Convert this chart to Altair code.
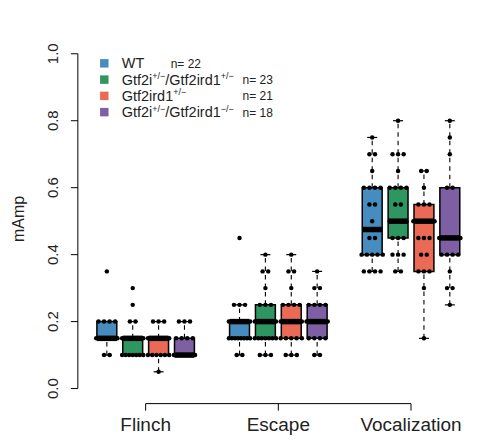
import altair as alt
import pandas as pd

# ---------------- data ----------------
behaviors = ["Flinch", "Escape", "Vocalization"]
genotypes = ["WT", "Gtf2i+/-/Gtf2ird1+/-", "Gtf2ird1+/-", "Gtf2i+/-/Gtf2ird1-/-"]
n_per_genotype = [22, 23, 21, 18]
colors = ["#468cbe", "#2e9660", "#eb6a56", "#7e5fa3"]

# box statistics per behavior, in genotype order
q1_vals = {"Flinch": [0.15, 0.10, 0.10, 0.10], "Escape": [0.15, 0.15, 0.15, 0.15], "Vocalization": [0.40, 0.45, 0.35, 0.40]}
med_vals = {"Flinch": [0.15, 0.15, 0.15, 0.10], "Escape": [0.20, 0.20, 0.20, 0.20], "Vocalization": [0.475, 0.50, 0.50, 0.45]}
q3_vals = {"Flinch": [0.20, 0.15, 0.15, 0.15], "Escape": [0.20, 0.25, 0.25, 0.25], "Vocalization": [0.60, 0.60, 0.55, 0.60]}
lo_vals = {"Flinch": [0.10, 0.10, 0.05, 0.10], "Escape": [0.10, 0.10, 0.10, 0.10], "Vocalization": [0.35, 0.35, 0.15, 0.25]}
hi_vals = {"Flinch": [0.20, 0.20, 0.20, 0.20], "Escape": [0.25, 0.40, 0.40, 0.35], "Vocalization": [0.75, 0.80, 0.65, 0.80]}

# individual animals: (value, count) per behavior / genotype
point_counts = {
    "Flinch": [
        [(0.35, 1), (0.20, 4), (0.15, 15), (0.10, 2)],
        [(0.30, 1), (0.25, 1), (0.20, 2), (0.15, 12), (0.10, 7)],
        [(0.20, 3), (0.15, 11), (0.10, 6), (0.05, 1)],
        [(0.20, 3), (0.15, 4), (0.10, 11)],
    ],
    "Escape": [
        [(0.45, 1), (0.25, 3), (0.20, 8), (0.15, 8), (0.10, 2)],
        [(0.40, 1), (0.35, 2), (0.30, 1), (0.25, 3), (0.20, 6), (0.15, 7), (0.10, 3)],
        [(0.40, 1), (0.35, 2), (0.30, 1), (0.25, 4), (0.20, 5), (0.15, 5), (0.10, 3)],
        [(0.35, 1), (0.30, 2), (0.25, 4), (0.20, 5), (0.15, 4), (0.10, 2)],
    ],
    "Vocalization": [
        [(0.75, 1), (0.70, 2), (0.65, 1), (0.60, 4), (0.55, 2), (0.50, 1), (0.45, 2), (0.40, 5), (0.35, 4)],
        [(0.80, 1), (0.70, 3), (0.65, 1), (0.60, 4), (0.55, 2), (0.50, 4), (0.45, 3), (0.40, 3), (0.35, 2)],
        [(0.65, 2), (0.60, 1), (0.55, 3), (0.50, 5), (0.45, 3), (0.40, 2), (0.35, 3), (0.30, 1), (0.15, 1)],
        [(0.80, 1), (0.75, 1), (0.70, 1), (0.60, 2), (0.45, 5), (0.40, 4), (0.35, 1), (0.30, 2), (0.25, 1)],
    ],
}

y_ticks = [0.0, 0.2, 0.4, 0.6, 0.8, 1.0]
y_title = "mAmp"
x_ticks = [0, 1, 2]

legend_segments = [
    [("WT", False)],
    [("Gtf2i", False), ("+/\u2212", True), ("/Gtf2ird1", False), ("+/\u2212", True)],
    [("Gtf2ird1", False), ("+/\u2212", True)],
    [("Gtf2i", False), ("+/\u2212", True), ("/Gtf2ird1", False), ("\u2212/\u2212", True)],
]

# ---------------- layout ----------------
W, H = 403, 364
box_step = 0.195
box_half = 0.075
cap_half = 0.0375
FONT = "Liberation Sans"
TXT = "#222222"
TICK = 7

xs = alt.Scale(domain=[-0.511, 2.52], nice=False, zero=False)
ys = alt.Scale(domain=[-0.045, 1.04], nice=False, zero=False)

rows = []
pts = []
for g, b in enumerate(behaviors):
    for k, gt in enumerate(genotypes):
        xc = g + (k - 1.5) * box_step
        rows.append(dict(behavior=b, genotype=gt, xc=xc, xl=xc - box_half, xr=xc + box_half,
                         capl=xc - cap_half, capr=xc + cap_half,
                         q1=q1_vals[b][k], med=med_vals[b][k], q3=q3_vals[b][k],
                         lo=lo_vals[b][k], hi=hi_vals[b][k]))
        for v, c in point_counts[b][k]:
            s = 0.0 if c == 1 else min(0.042, 0.16 / (c - 1))
            for i in range(c):
                pts.append(dict(behavior=b, genotype=gt, value=v, px=xc + (i - (c - 1) / 2) * s))
box_df = pd.DataFrame(rows)
pt_df = pd.DataFrame(pts)


def X(f):
    return alt.X(f, type="quantitative", scale=xs, axis=None)


def Y(f):
    return alt.Y(f, type="quantitative", scale=ys, axis=None)


color = alt.Color("genotype:N", scale=alt.Scale(domain=genotypes, range=colors), legend=None)

base = alt.Chart(box_df)
boxes = base.mark_rect(stroke="black", strokeWidth=1.5).encode(
    x=X("xl"), x2="xr:Q", y=Y("q1"), y2="q3:Q", fill=color)
wu = base.mark_rule(color="black", strokeWidth=1.1, strokeDash=[4.5, 4]).encode(
    x=X("xc"), y=Y("q3"), y2="hi:Q")
wl = base.mark_rule(color="black", strokeWidth=1.1, strokeDash=[4.5, 4]).encode(
    x=X("xc"), y=Y("lo"), y2="q1:Q")
cap_hi = base.mark_rule(color="black", strokeWidth=1.2).encode(x=X("capl"), x2="capr:Q", y=Y("hi"))
cap_lo = base.mark_rule(color="black", strokeWidth=1.2).encode(x=X("capl"), x2="capr:Q", y=Y("lo"))
medians = base.mark_rule(color="black", strokeWidth=5.5).encode(x=X("xl"), x2="xr:Q", y=Y("med"))
points = alt.Chart(pt_df).mark_circle(size=20, color="black", opacity=1).encode(
    x=X("px"), y=Y("value"))

# ---------------- R-style axes (drawn as marks) ----------------
ytick_df = pd.DataFrame({"v": y_ticks, "lab": [f"{v:.1f}" for v in y_ticks]})
xtick_df = pd.DataFrame({"v": x_ticks, "lab": behaviors})
one = pd.DataFrame({"a": [0]})

y_line = alt.Chart(pd.DataFrame({"lo": [y_ticks[0]], "hi": [y_ticks[-1]]})).mark_rule(
    color="black", strokeWidth=1).encode(x=alt.value(0), y=Y("lo"), y2="hi:Q")
y_tk = alt.Chart(ytick_df).mark_rule(color="black", strokeWidth=1).encode(
    x=alt.value(-TICK), x2=alt.value(0), y=Y("v"))
y_lab = alt.Chart(ytick_df).mark_text(
    angle=270, align="center", baseline="alphabetic", font=FONT, fontSize=15, color=TXT).encode(
    x=alt.value(-20), y=Y("v"), text="lab:N")
y_ttl = alt.Chart(one).mark_text(
    angle=270, align="center", baseline="middle", font=FONT, fontSize=16, color=TXT).encode(
    x=alt.value(-59), y=alt.value(179), text=alt.value(y_title))

x_line = alt.Chart(pd.DataFrame({"lo": [x_ticks[0]], "hi": [x_ticks[-1]]})).mark_rule(
    color="black", strokeWidth=1).encode(x=X("lo"), x2="hi:Q", y=alt.value(H))
x_tk = alt.Chart(xtick_df).mark_rule(color="black", strokeWidth=1).encode(
    x=X("v"), y=alt.value(H), y2=alt.value(H + TICK))
x_lab = alt.Chart(xtick_df).mark_text(
    align="center", baseline="alphabetic", font=FONT, fontSize=19, color=TXT).encode(
    x=X("v"), y=alt.value(H + 27), text="lab:N")

# ---------------- custom legend (superscripts) ----------------
WIDTHS = {"G": 778, "t": 278, "f": 278, "i": 222, "r": 333, "d": 556, "W": 944, "T": 611,
          "/": 278, "+": 584, "\u2212": 584, "n": 556, "=": 584, " ": 278}


def text_w(s, size):
    return sum(WIDTHS.get(ch, 556) for ch in s) / 1000 * size


legend_layers = []
row_y0, row_dy = 23, 16.3
for r, segs in enumerate(legend_segments):
    ry = row_y0 + r * row_dy
    legend_layers.append(alt.Chart(one).mark_square(size=72, color=colors[r], opacity=1).encode(
        x=alt.value(26.5), y=alt.value(ry)))
    cx = 44
    for txt, sup in segs:
        size = 9 if sup else 14.5
        dy = -0.5 if sup else 5
        legend_layers.append(alt.Chart(one).mark_text(
            align="left", baseline="alphabetic", font=FONT, fontSize=size, color=TXT).encode(
            x=alt.value(cx), y=alt.value(ry + dy), text=alt.value(txt)))
        cx += text_w(txt, size)
    nx = 93 if r == 0 else 165
    legend_layers.append(alt.Chart(one).mark_text(
        align="left", baseline="alphabetic", font=FONT, fontSize=12, color=TXT).encode(
        x=alt.value(nx), y=alt.value(ry + 4.5), text=alt.value(f"n= {n_per_genotype[r]}")))

chart = alt.layer(boxes, wu, wl, cap_hi, cap_lo, medians, points,
                  y_line, y_tk, y_lab, y_ttl, x_line, x_tk, x_lab, *legend_layers).properties(
    width=W, height=H,
    autosize=alt.AutoSizeParams(type="none"),
    padding={"left": 70, "top": 32, "right": 2, "bottom": 33},
).configure_view(stroke=None)

chart.save("out.html", embed_options={"renderer": "svg", "actions": False})
